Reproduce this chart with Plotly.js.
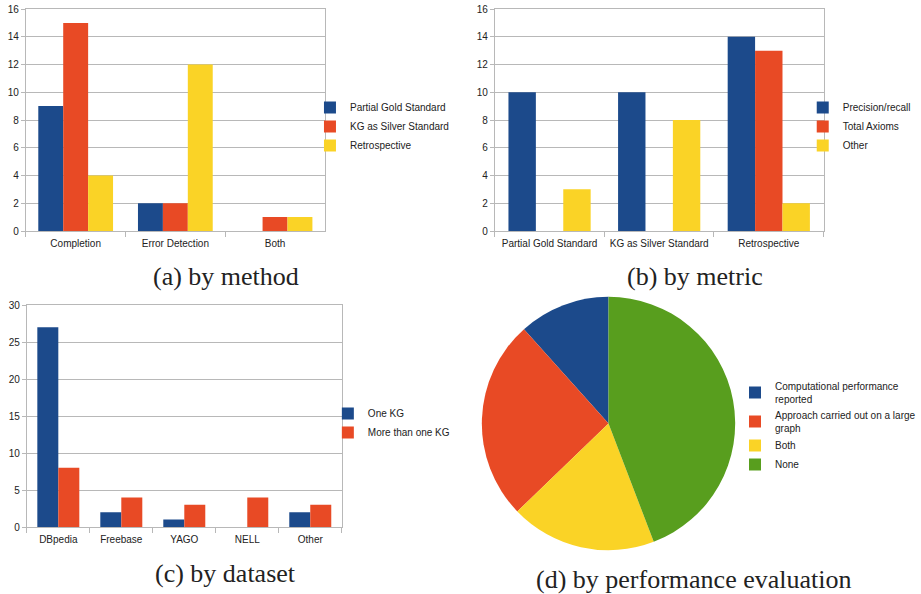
<!DOCTYPE html>
<html>
<head>
<meta charset="utf-8">
<script src="https://cdn.plot.ly/plotly-3.0.1.min.js"></script>
<style>html,body{margin:0;padding:0;background:#fff;}#chart{width:921px;height:594px;}</style>
</head>
<body>
<div id="chart"></div>
<script>
// (a) by method
const methodCats = ["Completion", "Error Detection", "Both"];
const methodSeries = ["Partial Gold Standard", "KG as Silver Standard", "Retrospective"];
const methodPartialGold = [9, 2, 0];
const methodSilver = [15, 2, 1];
const methodRetro = [4, 12, 1];

// (b) by metric
const metricCats = ["Partial Gold Standard", "KG as Silver Standard", "Retrospective"];
const metricSeries = ["Precision/recall", "Total Axioms", "Other"];
const metricPrecision = [10, 10, 14];
const metricAxioms = [0, 0, 13];
const metricOther = [3, 8, 2];

// (c) by dataset
const datasetCats = ["DBpedia", "Freebase", "YAGO", "NELL", "Other"];
const datasetSeries = ["One KG", "More than one KG"];
const datasetOne = [27, 2, 1, 0, 2];
const datasetMore = [8, 4, 3, 4, 3];

// (d) by performance evaluation
const perfLabels = ["Computational performance<br>reported", "Approach carried out on a large<br>graph", "Both", "None"];
const perfValues = [5, 11, 8, 19];

const captions = ["(a) by method", "(b) by metric", "(c) by dataset", "(d) by performance evaluation"];

const C_BLUE = "#1c4a8b", C_RED = "#e84a25", C_YEL = "#fad326", C_GRN = "#589e1e";
const TICKFONT = {family: "Liberation Sans, Arial, sans-serif", size: 10, color: "#222"};
const GRID = "#b8b8b8";

const W = 921, H = 594;
const px = v => v / W;
const py = v => 1 - v / H;

// first slice should start at 12 o'clock and run counterclockwise
const perfTotal = perfValues.reduce((a, b) => a + b, 0);
const pieRotation = -360 * perfValues[0] / perfTotal;

const traces = [
  {type: "bar", x: methodCats, y: methodPartialGold, name: methodSeries[0], marker: {color: C_BLUE}, xaxis: "x", yaxis: "y", legend: "legend"},
  {type: "bar", x: methodCats, y: methodSilver, name: methodSeries[1], marker: {color: C_RED}, xaxis: "x", yaxis: "y", legend: "legend"},
  {type: "bar", x: methodCats, y: methodRetro, name: methodSeries[2], marker: {color: C_YEL}, xaxis: "x", yaxis: "y", legend: "legend"},

  {type: "bar", x: metricCats, y: metricPrecision, name: metricSeries[0], marker: {color: C_BLUE}, xaxis: "x2", yaxis: "y2", legend: "legend2"},
  {type: "bar", x: metricCats, y: metricAxioms, name: metricSeries[1], marker: {color: C_RED}, xaxis: "x2", yaxis: "y2", legend: "legend2"},
  {type: "bar", x: metricCats, y: metricOther, name: metricSeries[2], marker: {color: C_YEL}, xaxis: "x2", yaxis: "y2", legend: "legend2"},

  {type: "bar", x: datasetCats, y: datasetOne, name: datasetSeries[0], marker: {color: C_BLUE}, xaxis: "x3", yaxis: "y3", legend: "legend3", width: 1/3, offset: -1/3},
  {type: "bar", x: datasetCats, y: datasetMore, name: datasetSeries[1], marker: {color: C_RED}, xaxis: "x3", yaxis: "y3", legend: "legend3", width: 1/3, offset: 0},

  {type: "pie", labels: perfLabels, values: perfValues, sort: false, direction: "counterclockwise", rotation: pieRotation,
   textinfo: "none", marker: {colors: [C_BLUE, C_RED, C_YEL, C_GRN], line: {width: 0}},
   domain: {x: [px(485), px(740)], y: [py(551), py(296)]}, legend: "legend4", hoverinfo: "label+value"}
];

function xax(dom, anchor) {
  return {domain: dom, anchor: anchor, type: "category", tickfont: TICKFONT, showgrid: false,
    showline: true, linecolor: GRID, linewidth: 1, mirror: true, ticklabelstandoff: 3,
    ticks: "outside", tickson: "boundaries", ticklen: 5, tickcolor: GRID, zeroline: false, fixedrange: true};
}
function yax(dom, anchor, maxv, dt) {
  return {domain: dom, anchor: anchor, range: [0, maxv], dtick: dt, tickfont: TICKFONT,
    showgrid: true, gridcolor: GRID, gridwidth: 1, showline: true, linecolor: GRID, linewidth: 1, mirror: true,
    ticks: "outside", ticklen: 4, tickcolor: GRID, zeroline: false, fixedrange: true};
}
const LEGFONT = {family: "Liberation Sans, Arial, sans-serif", size: 10, color: "#222"};
function leg(x, y) {
  return {x: x, y: y, xanchor: "left", yanchor: "top", font: LEGFONT, bgcolor: "rgba(0,0,0,0)",
    borderwidth: 0, tracegroupgap: 0, itemclick: false, itemdoubleclick: false};
}
const CAPFONT = {family: "Liberation Serif, Times New Roman, serif", size: 26, color: "#222"};

const layout = {
  width: W, height: H, margin: {l: 0, r: 0, t: 0, b: 0},
  paper_bgcolor: "#fff", plot_bgcolor: "#fff",
  barmode: "group", bargap: 0.25, bargroupgap: 0,
  showlegend: true,
  xaxis: xax([px(26), px(327)], "y"),
  yaxis: yax([py(231), py(9)], "x", 16, 2),
  xaxis2: xax([px(498), px(829)], "y2"),
  yaxis2: yax([py(231), py(9)], "x2", 16, 2),
  xaxis3: xax([px(27), px(344)], "y3"),
  yaxis3: yax([py(527), py(305)], "x3", 30, 5),
  legend: leg(px(312), py(93)),
  legend2: leg(px(808), py(93)),
  legend3: leg(px(330), py(399)),
  legend4: leg(px(740), py(373)),
  annotations: [
    {text: captions[0], xref: "paper", yref: "paper", x: px(227), y: py(277), xanchor: "center", yanchor: "middle", showarrow: false, font: CAPFONT},
    {text: captions[1], xref: "paper", yref: "paper", x: px(700), y: py(277), xanchor: "center", yanchor: "middle", showarrow: false, font: CAPFONT},
    {text: captions[2], xref: "paper", yref: "paper", x: px(227), y: py(573), xanchor: "center", yanchor: "middle", showarrow: false, font: CAPFONT},
    {text: captions[3], xref: "paper", yref: "paper", x: px(698), y: py(579), xanchor: "center", yanchor: "middle", showarrow: false, font: CAPFONT}
  ]
};

Plotly.newPlot("chart", traces, layout, {staticPlot: true, displayModeBar: false});
</script>
</body>
</html>
